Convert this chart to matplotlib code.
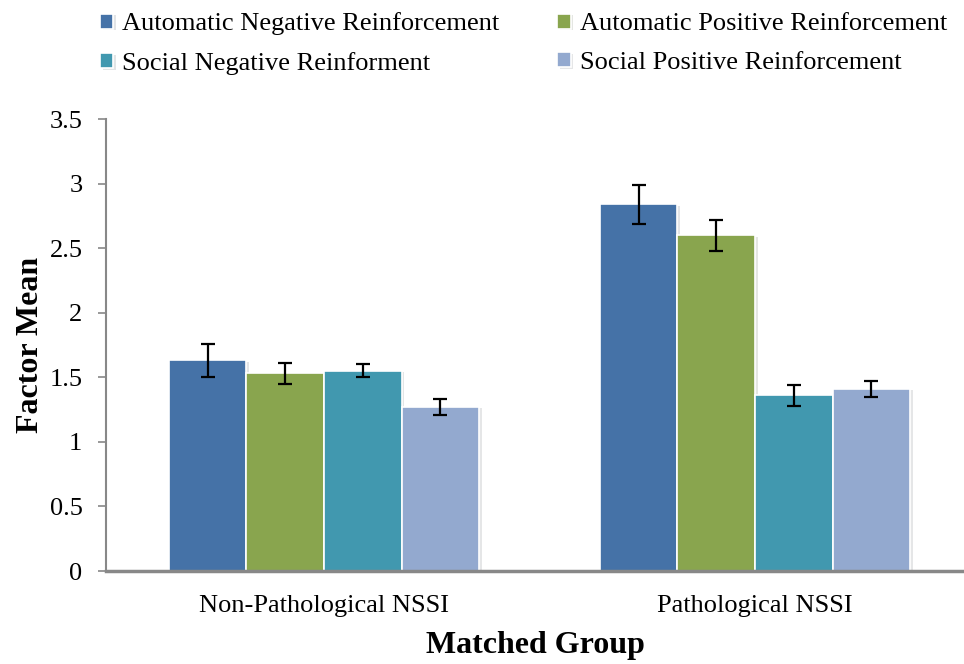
import matplotlib.pyplot as plt
import matplotlib.patheffects as pe
import numpy as np

plt.rcParams['font.family'] = ['Liberation Serif', 'DejaVu Serif']

groups = ['Non-Pathological NSSI', 'Pathological NSSI']
series = ['Automatic Negative Reinforcement', 'Automatic Positive Reinforcement',
          'Social Negative Reinforment', 'Social Positive Reinforcement']
means = {
    'Automatic Negative Reinforcement': [1.63, 2.84],
    'Automatic Positive Reinforcement': [1.53, 2.60],
    'Social Negative Reinforment': [1.55, 1.36],
    'Social Positive Reinforcement': [1.27, 1.41],
}
errors = {
    'Automatic Negative Reinforcement': [0.13, 0.15],
    'Automatic Positive Reinforcement': [0.08, 0.12],
    'Social Negative Reinforment': [0.05, 0.08],
    'Social Positive Reinforcement': [0.065, 0.065],
}
colors = ['#4572A7', '#89A54E', '#4198AF', '#93A9CF']

fig = plt.figure(figsize=(9.64, 6.64), dpi=100)
ax = fig.add_axes([106 / 964, 93 / 664, 1 - 106 / 964, 452 / 664])

x = np.arange(len(groups))
w = 0.18
handles = {}
for i, (name, c) in enumerate(zip(series, colors)):
    pos = x + (i - 1.5) * w
    b = ax.bar(pos, means[name], w, color=c, edgecolor='white', linewidth=1.2,
               yerr=errors[name], capsize=5,
               error_kw=dict(ecolor='black', elinewidth=1.6, capthick=1.6),
               label=name, zorder=2)
    for p in b.patches:
        p.set_path_effects([pe.SimplePatchShadow(offset=(2, -1), alpha=0.12), pe.Normal()])
    handles[name] = b

ax.set_xlim(-0.506, 1.485)
ax.set_ylim(0, 3.5)
ax.set_yticks(np.arange(0, 3.51, 0.5))
ax.set_yticklabels(['0', '0.5', '1', '1.5', '2', '2.5', '3', '3.5'])
ax.set_xticks(x)
ax.set_xticklabels(groups)
ax.tick_params(axis='x', length=0, labelsize=19, pad=17)
ax.tick_params(axis='y', length=6, width=1.2, color='#888888', labelsize=19, pad=11)

for s in ['top', 'right']:
    ax.spines[s].set_visible(False)
ax.spines['left'].set_color('#888888')
ax.spines['left'].set_linewidth(1.5)
ax.spines['bottom'].set_color('#888888')
ax.spines['bottom'].set_linewidth(2.5)

ax.set_xlabel('Matched Group', fontsize=23, fontweight='bold', labelpad=10)
ax.set_ylabel('Factor Mean', fontsize=23, fontweight='bold', labelpad=3)

order = [series[0], series[2], series[1], series[3]]
fig.legend([handles[n] for n in order], order, ncol=2, loc='upper left',
           bbox_to_anchor=(76 / 964, 1.017), frameon=False, fontsize=19,
           handlelength=0.5, handleheight=0.5, handletextpad=0.35,
           columnspacing=2.2, labelspacing=0.63)

fig.savefig('out.png', dpi=100)
